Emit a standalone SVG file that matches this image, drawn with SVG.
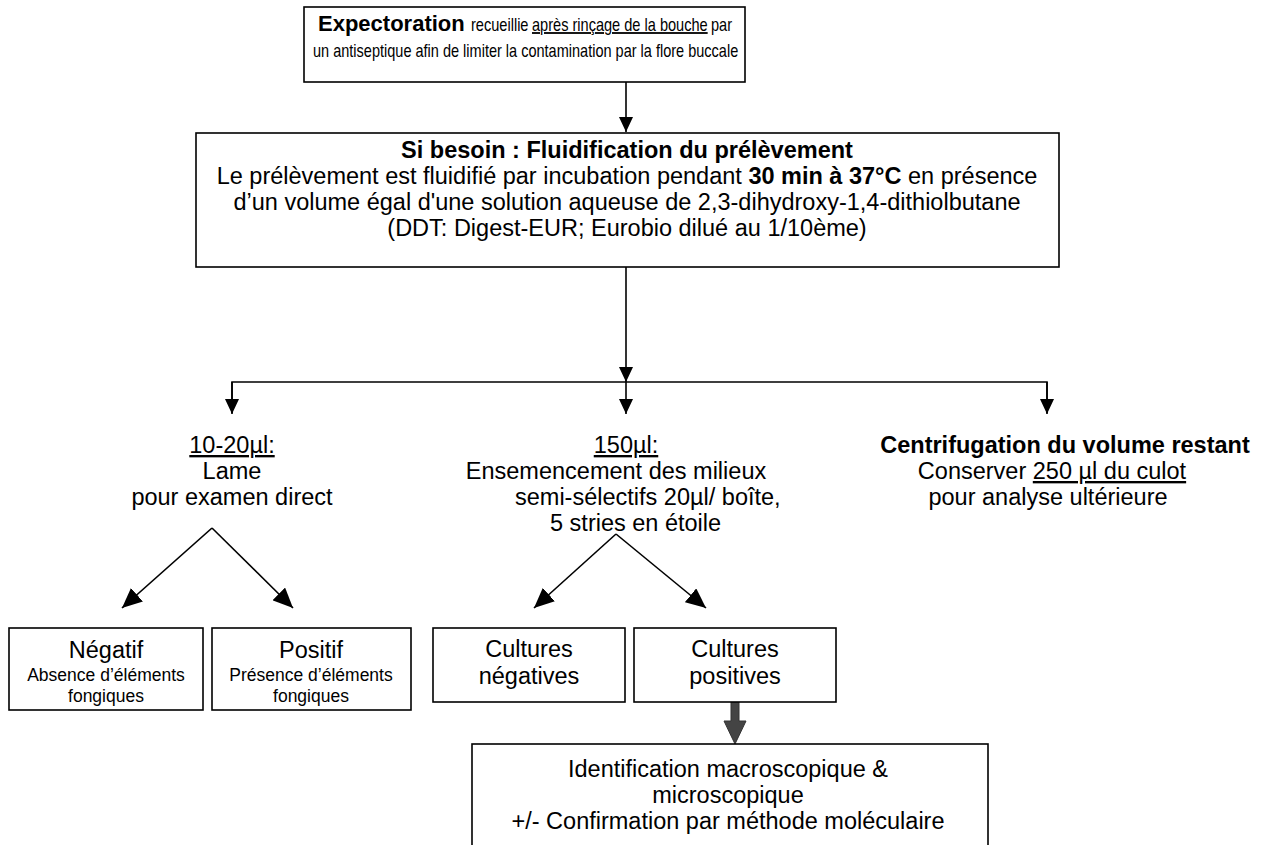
<svg xmlns="http://www.w3.org/2000/svg" width="1273" height="845" viewBox="0 0 1273 845">
<style>
text{font-family:"Liberation Sans",Arial,sans-serif;fill:#000}
.m{font-size:23.5px}
.s{font-size:17.5px}
.t{font-size:18px}
.b{font-weight:bold}
.u{text-decoration:underline}
.box{fill:#fff;stroke:#000;stroke-width:1.6}
.ln{fill:none;stroke:#000;stroke-width:1.6}
</style>
<defs>
<marker id="ah" markerUnits="userSpaceOnUse" markerWidth="16" markerHeight="14" refX="15" refY="7" orient="auto"><path d="M0,0 L15,7 L0,14 z" fill="#000"/></marker>
<marker id="ah2" markerUnits="userSpaceOnUse" markerWidth="20" markerHeight="18" refX="20" refY="9" orient="auto"><path d="M0,0 L20,9 L0,18 z" fill="#000"/></marker>
</defs>
<g id="connectors">
<line class="ln" x1="626" y1="82" x2="626" y2="132" marker-end="url(#ah)"/>
<line class="ln" x1="626" y1="267" x2="626" y2="382" marker-end="url(#ah)"/>
<polyline class="ln" points="232,413 232,382 1047,382 1047,413"/>
<line class="ln" x1="232" y1="382" x2="232" y2="414" marker-end="url(#ah)"/>
<line class="ln" x1="626" y1="382" x2="626" y2="414" marker-end="url(#ah)"/>
<line class="ln" x1="1047" y1="382" x2="1047" y2="414" marker-end="url(#ah)"/>
<line class="ln" x1="212" y1="528" x2="122" y2="608" marker-end="url(#ah2)"/>
<line class="ln" x1="212" y1="528" x2="293" y2="608" marker-end="url(#ah2)"/>
<line class="ln" x1="616" y1="534" x2="534" y2="608" marker-end="url(#ah2)"/>
<line class="ln" x1="616" y1="534" x2="706" y2="608" marker-end="url(#ah2)"/>
<path d="M731,702 H739 V721 H746 L735,744 L724,721 H731 Z" fill="#444" stroke="#333" stroke-width="1"/>
</g>
<g id="expectoration">
<rect class="box" x="304" y="7" width="441" height="75"/>
<text class="b" x="318" y="31" font-size="22">Expectoration</text>
<g transform="translate(471,31) scale(0.81,1)">
<text class="t" x="0" y="0">recueillie</text>
<text class="t u" x="75.3" y="0">après rinçage de la bouche</text>
<text class="t" x="296.3" y="0">par</text>
</g>
<g transform="translate(313,57) scale(0.807,1)">
<text class="t" x="0" y="0">un antiseptique afin de limiter la contamination par la flore buccale</text>
</g>
</g>
<g id="fluidification">
<rect class="box" x="196" y="133" width="863" height="134"/>
<text class="m b" x="627" y="158" text-anchor="middle">Si besoin : Fluidification du prélèvement</text>
<text class="m" x="627" y="184" text-anchor="middle">Le prélèvement est fluidifié par incubation pendant <tspan class="b">30 min à 37°C</tspan> en présence</text>
<text class="m" x="627" y="210" text-anchor="middle">d’un volume égal d'une solution aqueuse de 2,3-dihydroxy-1,4-dithiolbutane</text>
<text class="m" x="627" y="236" text-anchor="middle">(DDT: Digest-EUR; Eurobio dilué au 1/10ème)</text>
</g>
<g id="lame">
<text class="m" x="232" y="453" text-anchor="middle"><tspan class="u">10-20µl:</tspan></text>
<text class="m" x="232" y="479" text-anchor="middle">Lame</text>
<text class="m" x="232" y="505" text-anchor="middle">pour examen direct</text>
</g>
<g id="ensemencement">
<text class="m" x="626" y="453" text-anchor="middle"><tspan class="u">150µl:</tspan></text>
<text class="m" x="616" y="479" text-anchor="middle">Ensemencement des milieux</text>
<text class="m" x="515" y="505">semi-sélectifs 20µl/ boîte,</text>
<text class="m" x="550" y="531">5 stries en étoile</text>
</g>
<g id="centrifugation">
<text class="m b" x="1065" y="453" text-anchor="middle">Centrifugation du volume restant</text>
<text class="m" x="1052" y="479" text-anchor="middle">Conserver <tspan class="u">250 µl du culot</tspan></text>
<text class="m" x="1048" y="505" text-anchor="middle">pour analyse ultérieure</text>
</g>
<g id="negatif">
<rect class="box" x="9" y="628" width="194" height="82"/>
<text class="m" x="106" y="658" text-anchor="middle">Négatif</text>
<text class="s" x="106" y="681" text-anchor="middle">Absence d’éléments</text>
<text class="s" x="106" y="702" text-anchor="middle">fongiques</text>
</g>
<g id="positif">
<rect class="box" x="212" y="628" width="199" height="82"/>
<text class="m" x="311" y="658" text-anchor="middle">Positif</text>
<text class="s" x="311" y="681" text-anchor="middle">Présence d’éléments</text>
<text class="s" x="311" y="702" text-anchor="middle">fongiques</text>
</g>
<g id="cultures-negatives">
<rect class="box" x="433" y="628" width="192" height="74"/>
<text class="m" x="529" y="657" text-anchor="middle">Cultures</text>
<text class="m" x="529" y="684" text-anchor="middle">négatives</text>
</g>
<g id="cultures-positives">
<rect class="box" x="634" y="628" width="202" height="74"/>
<text class="m" x="735" y="657" text-anchor="middle">Cultures</text>
<text class="m" x="735" y="684" text-anchor="middle">positives</text>
</g>
<g id="identification">
<rect class="box" x="472" y="744" width="516" height="110"/>
<text class="m" x="728" y="777" text-anchor="middle">Identification macroscopique &amp;</text>
<text class="m" x="728" y="803" text-anchor="middle">microscopique</text>
<text class="m" x="728" y="829" text-anchor="middle">+/- Confirmation par méthode moléculaire</text>
</g>
</svg>
